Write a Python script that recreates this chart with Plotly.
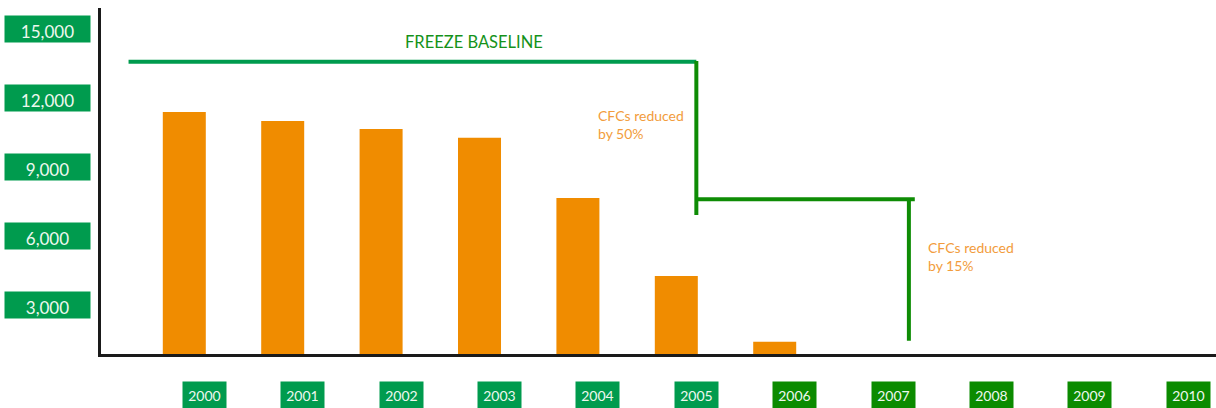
import plotly.graph_objects as go

# data
years = [2000, 2001, 2002, 2003, 2004, 2005, 2006, 2007, 2008, 2009, 2010]
bar_years = [2000, 2001, 2002, 2003, 2004, 2005, 2006]
cfc_values = [11380, 10990, 10640, 10260, 7650, 4260, 1400]
y_ticks = [3000, 6000, 9000, 12000, 15000]
y_tick_text = ["3,000", "6,000", "9,000", "12,000", "15,000"]

freeze_x = [1999.23, 2005.0]
freeze_y = [13560, 13560]
cut50_x = [2005.0, 2005.0]
cut50_y = [13600, 6910]
level50_x = [2005.0, 2007.22]
level50_y = [7590, 7590]
cut15_x = [2007.16, 2007.16]
cut15_y = [7590, 1450]

GREEN = "#009b4e"
GREEN2 = "#0e8c05"
ORANGE = "#f08c00"
FONT = "Lato"

fig = go.Figure()
fig.add_trace(go.Bar(x=bar_years, y=cfc_values, width=0.437, offset=-0.422,
                     marker=dict(color=ORANGE, line=dict(width=0)), hoverinfo="skip"))

fig.add_trace(go.Scatter(x=freeze_x, y=freeze_y, mode="lines",
                         line=dict(color=GREEN, width=4), hoverinfo="skip"))
for xs, ys in [(cut50_x, cut50_y), (level50_x, level50_y), (cut15_x, cut15_y)]:
    fig.add_trace(go.Scatter(x=xs, y=ys, mode="lines",
                             line=dict(color=GREEN2, width=4), hoverinfo="skip"))

# y tick labels in green boxes
for v, t in zip(y_ticks, y_tick_text):
    fig.add_annotation(x=0, xref="paper", xanchor="center", xshift=-54,
                       y=v, yref="y", yanchor="middle", text=t, showarrow=False,
                       width=85, height=26, borderpad=0, bgcolor=GREEN, valign="bottom",
                       font=dict(family=FONT, size=17, color="#eef8ee"))

# x tick labels in green boxes
for yr in years:
    col = GREEN if yr <= 2005 else "#0b8b00"
    fig.add_annotation(x=yr, xref="x", xanchor="center",
                       y=0, yref="paper", yanchor="middle", yshift=-41,
                       text=str(yr), showarrow=False,
                       width=43, height=27, borderpad=0, bgcolor=col,
                       font=dict(family=FONT, size=14, color="#eef8ee"))

fig.add_annotation(x=2002.74, y=freeze_y[0], yshift=20, text="FREEZE BASELINE",
                   showarrow=False, font=dict(family=FONT, size=16.5, color="#15921a"))
fig.add_annotation(x=cut50_x[0], xanchor="right", xshift=-10, y=11700, yanchor="top",
                   text="CFCs reduced<br>by 50%", align="left", showarrow=False,
                   font=dict(family=FONT, size=14, color="#f29c3c"))
fig.add_annotation(x=cut15_x[0], xanchor="left", xshift=17, y=5960, yanchor="top",
                   text="CFCs reduced<br>by 15%", align="left", showarrow=False,
                   font=dict(family=FONT, size=14, color="#f29c3c"))

fig.update_layout(
    width=1216, height=408,
    margin=dict(l=101, r=0, t=8, b=54),
    paper_bgcolor="white", plot_bgcolor="white",
    showlegend=False,
    xaxis=dict(range=[1998.950, 2010.281], showgrid=False, zeroline=False,
               showticklabels=False, ticks="", showline=True, linewidth=3, linecolor="#1a1a1a"),
    yaxis=dict(range=[872, 15897], showgrid=False, zeroline=False,
               showticklabels=False, ticks="", showline=True, linewidth=3, linecolor="#1a1a1a"),
)

fig.write_html("out.html", config={"displayModeBar": False},
               post_script="document.body.style.margin='0';")
